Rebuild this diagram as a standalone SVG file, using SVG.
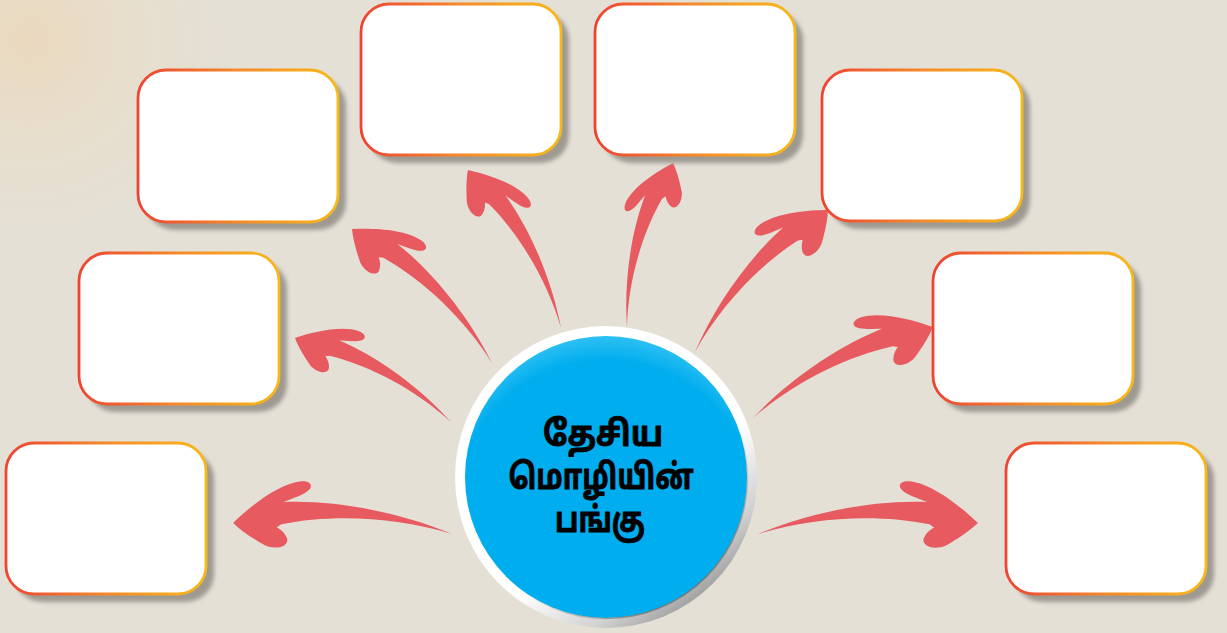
<svg xmlns="http://www.w3.org/2000/svg" width="1227" height="633" viewBox="0 0 1227 633">
<defs>
<radialGradient id="glow" cx="30" cy="40" r="260" gradientUnits="userSpaceOnUse">
<stop offset="0" stop-color="#f2cfa0" stop-opacity="0.45"/>
<stop offset="0.5" stop-color="#eedcbc" stop-opacity="0.25"/>
<stop offset="1" stop-color="#e4e0d6" stop-opacity="0"/>
</radialGradient>
<linearGradient id="edge" x1="0" y1="0" x2="1" y2="0">
<stop offset="0" stop-color="#ee4433"/>
<stop offset="0.5" stop-color="#f48a2a"/>
<stop offset="1" stop-color="#f8b818"/>
</linearGradient>
<linearGradient id="ring" x1="0.2" y1="0.1" x2="0.85" y2="0.95">
<stop offset="0" stop-color="#ffffff"/>
<stop offset="0.6" stop-color="#ffffff"/>
<stop offset="0.82" stop-color="#d0d0d0"/>
<stop offset="1" stop-color="#8a8a8a"/>
</linearGradient>
<linearGradient id="inner" x1="0.2" y1="0.1" x2="0.85" y2="0.95">
<stop offset="0" stop-color="#ffffff" stop-opacity="0"/>
<stop offset="0.6" stop-color="#888888" stop-opacity="0"/>
<stop offset="1" stop-color="#555555" stop-opacity="0.8"/>
</linearGradient>
<radialGradient id="blue" cx="0.5" cy="0.62" r="0.62">
<stop offset="0" stop-color="#00adee"/>
<stop offset="0.86" stop-color="#00adee"/>
<stop offset="1" stop-color="#2ec0f2"/>
</radialGradient>
<filter id="soft" x="-10%" y="-10%" width="130%" height="130%">
<feGaussianBlur stdDeviation="2"/>
</filter>
<path id="arrow" d="M0,0 C50,18 110,26 158,21 L161,18.5 C150,24 138,28 133,33 C128,38 132,42 140,41 C160,38 185,16 200,0 C192,-7 180,-14 170,-19 C160,-23 148,-19 150,-12 C152,-7 156,-4 160,-2 L156,1 C110,13 50,13 0,0 Z"/>
</defs>
<style>
.shadow{fill:#9e9a92;filter:url(#soft)}
.box{fill:#ffffff;stroke:url(#edge);stroke-width:2.8}
.arr{fill:#e75a60}
.lbl{font-family:'Noto Sans Tamil','Noto Sans','DejaVu Sans',sans-serif;font-weight:bold;font-size:35px;fill:#000000;stroke:#000000;stroke-width:0.9;text-anchor:middle}
</style>
<rect x="0" y="0" width="1227" height="633" fill="#e4e0d6"/>
<rect x="0" y="0" width="320" height="320" fill="url(#glow)"/>

<g id="connectors">
<use href="#arrow" class="arr" transform="translate(452 534) rotate(-177.1) scale(1.096)"/>
<use href="#arrow" class="arr" transform="translate(451 422) rotate(-151.7) scale(0.886)"/>
<use href="#arrow" class="arr" transform="translate(492 363) rotate(-136.25) scale(0.969)"/>
<use href="#arrow" class="arr" transform="translate(561 328) rotate(-120.5) scale(0.917)"/>
<use href="#arrow" class="arr" transform="translate(627 327) rotate(-74.3) scale(0.852 -0.852)"/>
<use href="#arrow" class="arr" transform="translate(695 352) rotate(-46.9) scale(0.973 -0.973)"/>
<use href="#arrow" class="arr" transform="translate(753 418) rotate(-26.8) scale(1.008 -1.008)"/>
<use href="#arrow" class="arr" transform="translate(758 534) rotate(-2.86) scale(1.101 -1.101)"/>
</g>

<g id="box1"><rect class="shadow" x="14" y="451" width="200" height="151" rx="28"/><rect class="box" x="6" y="443" width="200" height="151" rx="28"/></g>
<g id="box2"><rect class="shadow" x="87" y="261" width="200" height="151" rx="28"/><rect class="box" x="79" y="253" width="200" height="151" rx="28"/></g>
<g id="box3"><rect class="shadow" x="146" y="78" width="200" height="152" rx="28"/><rect class="box" x="138" y="70" width="200" height="152" rx="28"/></g>
<g id="box4"><rect class="shadow" x="369" y="12" width="200" height="151" rx="28"/><rect class="box" x="361" y="4" width="200" height="151" rx="28"/></g>
<g id="box5"><rect class="shadow" x="603" y="12" width="200" height="151" rx="28"/><rect class="box" x="595" y="4" width="200" height="151" rx="28"/></g>
<g id="box6"><rect class="shadow" x="830" y="78" width="200" height="151" rx="28"/><rect class="box" x="822" y="70" width="200" height="151" rx="28"/></g>
<g id="box7"><rect class="shadow" x="941" y="261" width="200" height="151" rx="28"/><rect class="box" x="933" y="253" width="200" height="151" rx="28"/></g>
<g id="box8"><rect class="shadow" x="1014" y="451" width="200" height="151" rx="28"/><rect class="box" x="1006" y="443" width="200" height="151" rx="28"/></g>

<g id="center">
<circle cx="606" cy="477" r="151" fill="url(#ring)"/>
<circle cx="606" cy="477" r="141" fill="url(#blue)"/>
<circle cx="606" cy="477" r="141.5" fill="none" stroke="url(#inner)" stroke-width="1.5"/>
<text class="lbl" x="603" y="446" textLength="120" lengthAdjust="spacingAndGlyphs">தேசிய</text>
<text class="lbl" x="601" y="489" textLength="185" lengthAdjust="spacingAndGlyphs">மொழியின்</text>
<text class="lbl" x="600" y="532" textLength="90" lengthAdjust="spacingAndGlyphs">பங்கு</text>
</g>
</svg>
